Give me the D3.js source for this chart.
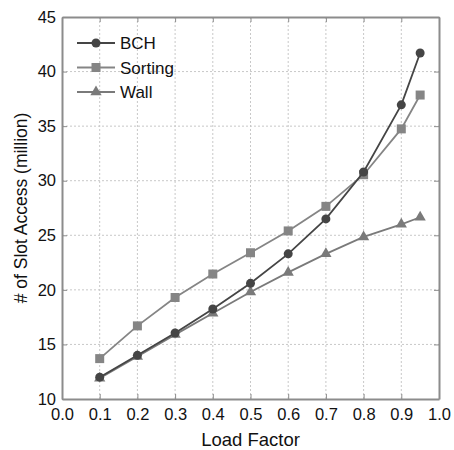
<html>
<head>
<script src="https://cdn.jsdelivr.net/npm/d3@7"></script>
<style>
body { margin: 0; background: #fff; }
svg { font-family: "Liberation Sans", Arial, sans-serif; }
</style>
</head>
<body>
<svg id="chart"></svg>
<script>
const WIDTH = 454
const HEIGHT = 450
const MARGIN = {left: 62, top: 17, right: 15, bottom: 51}

const loadFactor = [0.1, 0.2, 0.3, 0.4, 0.5, 0.6, 0.7, 0.8, 0.9, 0.95]
const bch = [12.0, 14.0, 16.05, 18.25, 20.6, 23.3, 26.5, 30.8, 36.95, 41.7]
const sorting = [13.7, 16.7, 19.3, 21.45, 23.4, 25.4, 27.65, 30.55, 34.75, 37.85]
const wall = [11.9, 13.9, 15.9, 17.85, 19.8, 21.6, 23.3, 24.85, 26.0, 26.65]
const xTicks = [0, 0.1, 0.2, 0.3, 0.4, 0.5, 0.6, 0.7, 0.8, 0.9, 1.0]
const yTicks = [10, 15, 20, 25, 30, 35, 40, 45]

const series = [
  {name: "BCH", values: bch, color: "#454545", marker: "circle"},
  {name: "Sorting", values: sorting, color: "#858585", marker: "square"},
  {name: "Wall", values: wall, color: "#7a7a7a", marker: "triangle"}
]

const CW = WIDTH - MARGIN.left - MARGIN.right
const CH = HEIGHT - MARGIN.top - MARGIN.bottom

let svg = d3.select("#chart").attr("width", WIDTH).attr("height", HEIGHT)
let g = svg.append("g").attr("transform", `translate(${MARGIN.left},${MARGIN.top})`)

let x = d3.scaleLinear().domain([0, 1]).range([0, CW])
let y = d3.scaleLinear().domain([10, 45]).range([CH, 0])

// grid
g.selectAll(".vgrid").data(xTicks.slice(1, -1)).enter().append("line")
  .attr("x1", d => x(d)).attr("x2", d => x(d)).attr("y1", 0).attr("y2", CH)
  .attr("stroke", "#c8c8c8").attr("stroke-dasharray", "2,2")
g.selectAll(".hgrid").data(yTicks.slice(1, -1)).enter().append("line")
  .attr("y1", d => y(d)).attr("y2", d => y(d)).attr("x1", 0).attr("x2", CW)
  .attr("stroke", "#c8c8c8").attr("stroke-dasharray", "2,2")

// axes, ticks inward on all sides
let axB = g.append("g").attr("transform", `translate(0,${CH})`)
  .call(d3.axisBottom(x).tickValues(xTicks).tickFormat(d3.format(".1f")).tickSizeInner(-5).tickSizeOuter(0).tickPadding(9))
let axL = g.append("g")
  .call(d3.axisLeft(y).tickValues(yTicks).tickSizeInner(-5).tickSizeOuter(0).tickPadding(6))
let axT = g.append("g")
  .call(d3.axisTop(x).tickValues(xTicks).tickFormat("").tickSizeInner(-5).tickSizeOuter(0))
let axR = g.append("g").attr("transform", `translate(${CW},0)`)
  .call(d3.axisRight(y).tickValues(yTicks).tickFormat("").tickSizeInner(-5).tickSizeOuter(0))

;[axB, axL, axT, axR].forEach(a => {
  a.selectAll("path").attr("stroke", "#8c8c8c").attr("stroke-width", 2)
  a.selectAll("line").attr("stroke", "#8c8c8c")
  a.selectAll("text").attr("fill", "#111").style("font-size", "16.5px")
})

let line = d3.line().x((d, i) => x(loadFactor[i])).y(d => y(d))

function drawMarker(sel, type, color) {
  if (type == "circle") {
    sel.append("circle").attr("r", 4.5).attr("fill", color)
  } else if (type == "square") {
    sel.append("rect").attr("x", -4.5).attr("y", -4.5).attr("width", 9).attr("height", 9).attr("fill", color)
  } else {
    sel.append("path").attr("d", d3.symbol().type(d3.symbolTriangle).size(55)).attr("fill", color)
  }
}

// draw in reverse so BCH is on top
series.slice().reverse().forEach(s => {
  g.append("path").datum(s.values).attr("d", line)
    .attr("fill", "none").attr("stroke", s.color).attr("stroke-width", 1.8)
  s.values.forEach((v, i) => {
    let m = g.append("g").attr("transform", `translate(${x(loadFactor[i])},${y(v)})`)
    drawMarker(m, s.marker, s.color)
  })
})

// legend
let legend = g.append("g").attr("transform", "translate(15,26)")
series.forEach((s, i) => {
  let row = legend.append("g").attr("transform", `translate(0,${i * 24.5})`)
  row.append("line").attr("x1", 0).attr("x2", 38).attr("stroke", s.color).attr("stroke-width", 1.8)
  let m = row.append("g").attr("transform", "translate(19,0)")
  drawMarker(m, s.marker, s.color)
  row.append("text").attr("x", 43).attr("dy", "0.36em").text(s.name)
    .style("font-size", "17px").attr("fill", "#111")
})

// axis titles
svg.append("text").attr("x", MARGIN.left + CW / 2).attr("y", 446)
  .attr("text-anchor", "middle").style("font-size", "18.5px").attr("fill", "#111").text("Load Factor")
svg.append("text").attr("transform", `translate(27,${MARGIN.top + CH / 2}) rotate(-90)`)
  .attr("text-anchor", "middle").style("font-size", "17.5px").attr("fill", "#111").text("# of Slot Access (million)")
</script>
</body>
</html>
